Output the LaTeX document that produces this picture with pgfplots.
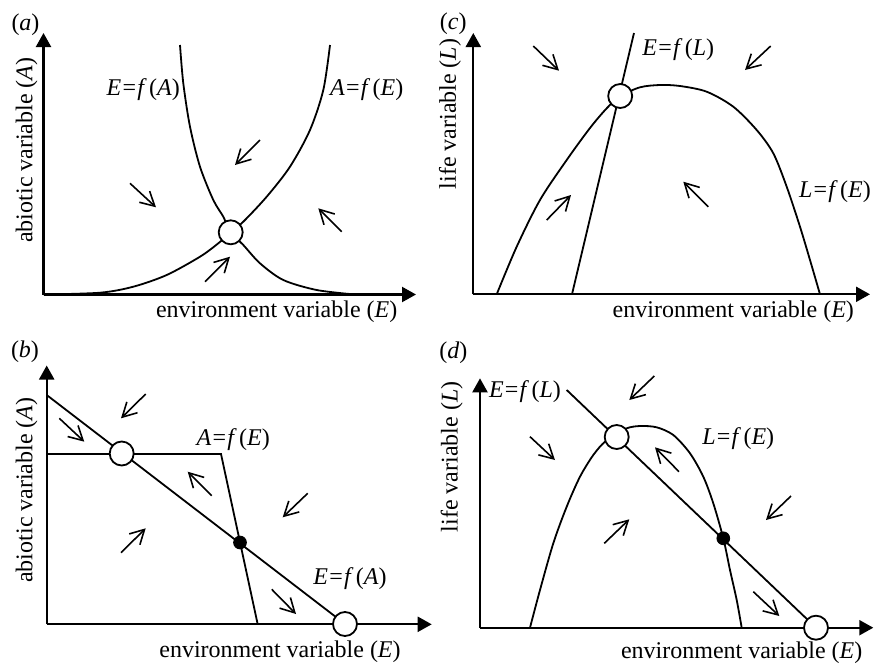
\documentclass[border=0pt]{standalone}
\usepackage{pgfplots}
\pgfplotsset{compat=1.18}
\usepackage{fontspec}
\setmainfont{Liberation Serif}
\usetikzlibrary{arrows.meta}
\newcommand{\eq}[2]{\textit{#1}\kern0.6pt=\kern0.6pt\textit{f}\kern1.2pt(\textit{#2})}
\pgfplotsset{
  diag/.style={scale only axis, axis lines=left, xtick=\empty, ytick=\empty,
    clip=false, anchor=south west,
    x axis line style={line width=1.1pt,-{Triangle[length=7pt,width=7.5pt]}},
    y axis line style={line width=1.1pt,-{Triangle[length=7pt,width=7.5pt]}}},
  curve/.style={black, line width=0.9pt, no marks},
  farrow/.style={black, line width=0.8pt, no marks, -{Straight Barb[length=7pt,width=7.6pt]}},
  opencirc/.style={only marks, mark=*, mark size=6pt, mark options={fill=white, draw=black, line width=0.9pt}},
  dot/.style={only marks, mark=*, mark size=3.2pt, mark options={fill=black, draw=black}},
}
\newcommand{\farrow}[4]{\addplot[farrow] coordinates {(#1,#2) (#3,#4)};}
\begin{document}
\fontsize{12}{14}\selectfont
\begin{tikzpicture}
\useasboundingbox (0pt,0pt) rectangle (437.5pt,-332.5pt);
% ---------------- (a)
\begin{axis}[diag, at={(21.75pt,-147.25pt)}, width=186.25pt, height=130.75pt,
  xmin=43.5, xmax=416, ymin=-294.5, ymax=-33]
\addplot[curve, smooth] coordinates {(43.5,-294.5) (100,-292.7) (133.3,-286.7) (166.7,-275) (200,-256.7) (218.3,-243.3) (230.7,-232.3) (243.3,-221.7) (266.7,-196.7) (290,-166.7) (310,-130) (323.3,-90) (330,-45)};
\addplot[curve, smooth] coordinates {(180,-45) (183.3,-83.3) (190,-126.7) (200,-166.7) (213.3,-200) (223.3,-216.7) (230.7,-232.3) (243.3,-245) (260,-263.3) (283.3,-280) (316.7,-290) (355,-294.5)};
\farrow{260}{-140}{235}{-165}
\farrow{130}{-183.3}{156}{-207.3}
\farrow{341.7}{-231.7}{318.3}{-208.3}
\farrow{205}{-281.7}{230}{-256.7}
\addplot[opencirc] coordinates {(230.7,-232.3)};
\node at (axis cs:25.5,-25) {(\textit{a})};
\node at (axis cs:143.3,-90) {\eq{E}{A}};
\node at (axis cs:366.7,-90) {\eq{A}{E}};
\node at (axis cs:276.7,-311.7) {environment variable (\textit{E})};
\node[rotate=90] at (axis cs:26.7,-150) {abiotic variable (\textit{A})};
\end{axis}
% ---------------- (c)
\begin{axis}[diag, at={(236.65pt,-147.15pt)}, width=198.35pt, height=130.65pt,
  xmin=473.3, xmax=870, ymin=-294.3, ymax=-33]
\addplot[curve, smooth] coordinates {(496.7,-294.3) (516.7,-246.7) (540,-200) (566.7,-160) (590,-128) (607,-108) (620.7,-96) (640,-87.3) (660,-85) (680,-86) (706.7,-91.7) (733.3,-106.7) (756.7,-130) (773.3,-153.3) (786.7,-186.7) (800,-226.7) (810,-260) (820,-294.3)};
\addplot[curve] coordinates {(572,-294.3) (634,-33)};
\farrow{533.3}{-46}{559}{-70.7}
\farrow{770.7}{-46}{745}{-70}
\farrow{546.7}{-220}{571}{-195}
\farrow{708.3}{-206.7}{683.3}{-181.7}
\addplot[opencirc] coordinates {(620.2,-96)};
\node at (axis cs:453.3,-23.3) {(\textit{c})};
\node at (axis cs:678.3,-50) {\eq{E}{L}};
\node at (axis cs:835,-191.7) {\eq{L}{E}};
\node at (axis cs:733.3,-311.7) {environment variable (\textit{E})};
\node[rotate=90] at (axis cs:450,-114) {life variable (\textit{L})};
\end{axis}
% ---------------- (b)
\begin{axis}[diag, at={(23.35pt,-312.15pt)}, width=192.5pt, height=129.4pt,
  xmin=46.7, xmax=431.7, ymin=-624.3, ymax=-365.5]
\addplot[curve] coordinates {(46.7,-454) (221,-454) (257.7,-624.3)};
\addplot[curve] coordinates {(46.7,-395) (345,-624)};
\farrow{145.7}{-394}{121}{-418.3}
\farrow{59.3}{-418.3}{84.3}{-441.7}
\farrow{211.7}{-495.7}{187.7}{-471.7}
\farrow{307.7}{-493.3}{282.7}{-517.3}
\farrow{121}{-552.7}{145.7}{-528.3}
\farrow{271.7}{-589.3}{296}{-614}
\addplot[opencirc] coordinates {(121.7,-453.5) (345,-624)};
\addplot[dot] coordinates {(240,-542.5)};
\node at (axis cs:25,-351.7) {(\textit{b})};
\node at (axis cs:233.3,-440) {\eq{A}{E}};
\node at (axis cs:350,-578.3) {\eq{E}{A}};
\node at (axis cs:280,-651.7) {environment variable (\textit{E})};
\node[rotate=90] at (axis cs:26.7,-490) {abiotic variable (\textit{A})};
\end{axis}
% ---------------- (d)
\begin{axis}[diag, at={(240pt,-313.85pt)}, width=196.65pt, height=124.7pt,
  xmin=480, xmax=873.3, ymin=-627.7, ymax=-378.3]
\addplot[curve, smooth] coordinates {(530,-627.7) (540,-590) (553.3,-543.3) (566.7,-506.7) (580,-476.7) (593.3,-455) (605,-441.7) (616.7,-436) (626.7,-428.3) (640,-426) (656.7,-427.3) (673.3,-435) (690,-453.3) (703.3,-476.7) (713.3,-503.3) (723.3,-538.3) (730,-570) (736.7,-600) (741.7,-627.7)};
\addplot[curve] coordinates {(566.7,-390) (816,-627.7)};
\farrow{654.3}{-376}{629.3}{-400}
\farrow{530}{-436.7}{555}{-460}
\farrow{679}{-471.7}{655}{-447.3}
\farrow{791}{-496}{766}{-520}
\farrow{604.3}{-543.3}{629.3}{-519.3}
\farrow{753.3}{-591.7}{779.3}{-616}
\addplot[opencirc] coordinates {(616.7,-437) (816,-627.7)};
\addplot[dot] coordinates {(723.3,-538.3)};
\node at (axis cs:453.3,-352.5) {(\textit{d})};
\node at (axis cs:525,-391.7) {\eq{E}{L}};
\node at (axis cs:738.3,-438.3) {\eq{L}{E}};
\node at (axis cs:741.7,-652.7) {environment variable (\textit{E})};
\node[rotate=90] at (axis cs:451.7,-456.7) {life variable (\textit{L})};
\end{axis}
\end{tikzpicture}
\end{document}
